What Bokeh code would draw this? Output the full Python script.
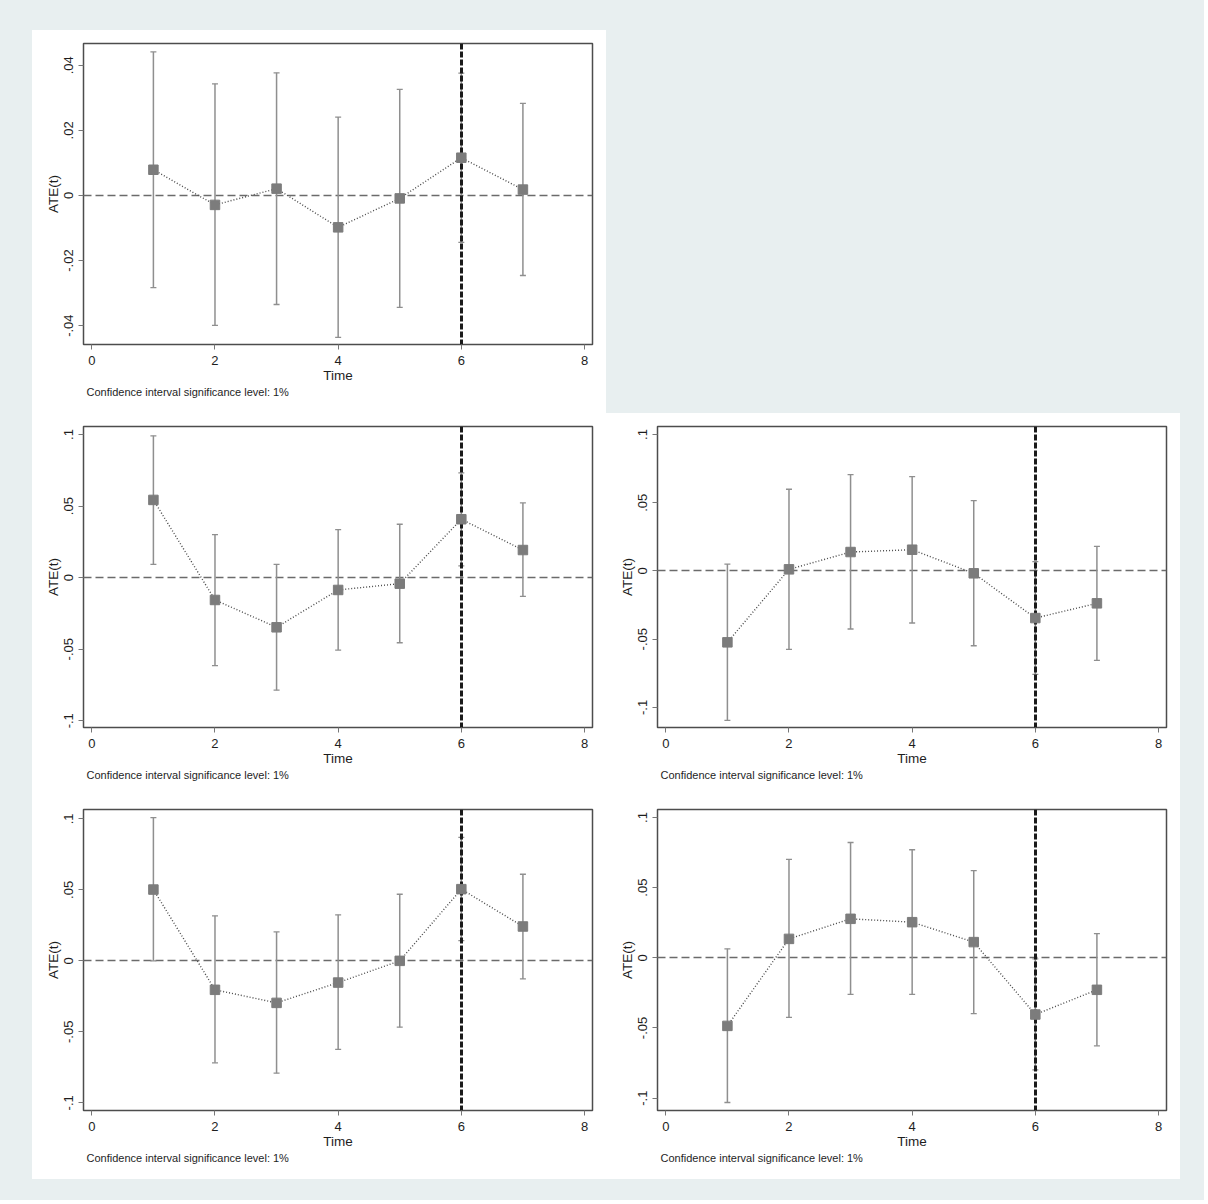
from bokeh.plotting import figure
from bokeh.layouts import column, row
from bokeh.models import Range1d, FixedTicker, CustomJSTickFormatter, Title, Spacer
from bokeh.embed import file_html
from bokeh.resources import INLINE

# ---------------- data ----------------
time = [1, 2, 3, 4, 5, 6, 7]
treat_time = 6
x_ticks = [0, 2, 4, 6, 8]
note_text = "Confidence interval significance level: 1%"

yticks_small = [-0.04, -0.02, 0, 0.02, 0.04]
yticks_large = [-0.1, -0.05, 0, 0.05, 0.1]

ate_a = [0.0079, -0.0029, 0.0021, -0.0098, -0.0009, 0.0116, 0.0018]
lo_a = [-0.0283, -0.0399, -0.0335, -0.0436, -0.0344, -0.0144, -0.0246]
hi_a = [0.0441, 0.0343, 0.0377, 0.0241, 0.0326, 0.0376, 0.0283]

ate_b = [0.0543, -0.0156, -0.0347, -0.0086, -0.0042, 0.0408, 0.0193]
lo_b = [0.0093, -0.0615, -0.0786, -0.0506, -0.0455, 0.0082, -0.0131]
hi_b = [0.0991, 0.0301, 0.0093, 0.0336, 0.0373, 0.0732, 0.0522]

ate_c = [-0.0523, 0.0012, 0.0139, 0.0156, -0.0017, -0.0345, -0.0237]
lo_c = [-0.1095, -0.0575, -0.0425, -0.0381, -0.0548, -0.0758, -0.0655]
hi_c = [0.0051, 0.0599, 0.0707, 0.0692, 0.0516, 0.0068, 0.0181]

ate_d = [0.0502, -0.0204, -0.0296, -0.0153, 0.0, 0.0505, 0.0242]
lo_d = [0.0, -0.0718, -0.0791, -0.0624, -0.0467, 0.0143, -0.0127]
hi_d = [0.1009, 0.0317, 0.0204, 0.0324, 0.0469, 0.0869, 0.0610]

ate_e = [-0.0485, 0.0135, 0.0278, 0.0254, 0.0112, -0.0404, -0.0228]
lo_e = [-0.1031, -0.0425, -0.0261, -0.0261, -0.0397, -0.0798, -0.0627]
hi_e = [0.0064, 0.0701, 0.0822, 0.0770, 0.0622, -0.0007, 0.0173]

# ---------------- style ----------------
BG = "#e8eff0"
FONT = "Liberation Sans"
TXT = "#1e1e1e"

fmt = CustomJSTickFormatter(code="""
if (Math.abs(tick) < 1e-12) return "0";
let s = String(parseFloat(tick.toFixed(4)));
return s.replace(/^(-?)0\\./, "$1.");
""")


def panel(ate, lo, hi, yticks, y0, y1):
    p = figure(frame_width=509, frame_height=301,
               min_border_left=51, min_border_right=14,
               min_border_top=13, min_border_bottom=69,
               x_range=Range1d(-0.135, 8.13), y_range=Range1d(y0, y1),
               output_backend="svg", toolbar_location=None)
    p.background_fill_color = "white"
    p.border_fill_color = "white"
    p.outline_line_color = "#4d4d4d"
    p.outline_line_width = 1.5
    p.xgrid.visible = False
    p.ygrid.visible = False

    p.hspan(y=[0], line_color="#6b6b6b", line_width=1.5, line_dash="8 4")
    p.segment(x0=time, y0=lo, x1=time, y1=hi, line_color="#8f8f8f", line_width=1.5)
    p.scatter(x=time + time, y=lo + hi, marker="dash", size=6,
              line_color="#8f8f8f", line_width=1.3)
    p.vspan(x=[treat_time], line_color="#1a1a1a", line_width=3, line_dash="6 2")
    p.line(x=time, y=ate, line_color="#4a4a4a", line_width=1.4, line_dash="1 2")
    p.scatter(x=time, y=ate, marker="square", size=9.5,
              fill_color="#7c7c7c", line_color="#7c7c7c")

    for ax in (p.xaxis[0], p.yaxis[0]):
        ax.axis_line_color = None
        ax.major_tick_in = 0
        ax.major_tick_out = 5
        ax.major_tick_line_color = "#777777"
        ax.minor_tick_line_color = None
        ax.major_label_text_font = FONT
        ax.major_label_text_font_size = "13px"
        ax.major_label_text_color = TXT
        ax.axis_label_text_font = FONT
        ax.axis_label_text_font_size = "13.5px"
        ax.axis_label_text_font_style = "normal"
        ax.axis_label_text_color = TXT

    p.xaxis.ticker = FixedTicker(ticks=x_ticks)
    p.xaxis.axis_label = "Time"
    p.xaxis.major_label_standoff = 6
    p.xaxis.axis_label_standoff = 0

    p.yaxis.ticker = FixedTicker(ticks=yticks)
    p.yaxis.formatter = fmt
    p.yaxis.major_label_orientation = "vertical"
    p.yaxis.axis_label = "ATE(t)"
    p.yaxis.major_label_standoff = 5
    p.yaxis.axis_label_standoff = 1

    note = Title(text=note_text, align="left", offset=3, standoff=-3,
                 text_font=FONT, text_font_size="11px",
                 text_font_style="normal", text_color=TXT)
    p.add_layout(note, "below")
    return p


p1 = panel(ate_a, lo_a, hi_a, yticks_small, -0.0458, 0.0467)
p2 = panel(ate_b, lo_b, hi_b, yticks_large, -0.1047, 0.1056)
p3 = panel(ate_c, lo_c, hi_c, yticks_large, -0.1147, 0.1059)
p4 = panel(ate_d, lo_d, hi_d, yticks_large, -0.1054, 0.1066)
p5 = panel(ate_e, lo_e, hi_e, yticks_large, -0.1088, 0.1057)

grid = column(
    row(p1, Spacer(width=574, height=383, styles={"background-color": BG})),
    row(p2, p3),
    row(p4, p5),
    styles={"background-color": "white"},
)

root = column(
    Spacer(width=1204, height=30),
    row(Spacer(width=32, height=1149), grid, Spacer(width=24, height=1149)),
    Spacer(width=1204, height=21),
    styles={"background-color": BG},
)

open("out.html", "w").write(file_html(root, INLINE))
